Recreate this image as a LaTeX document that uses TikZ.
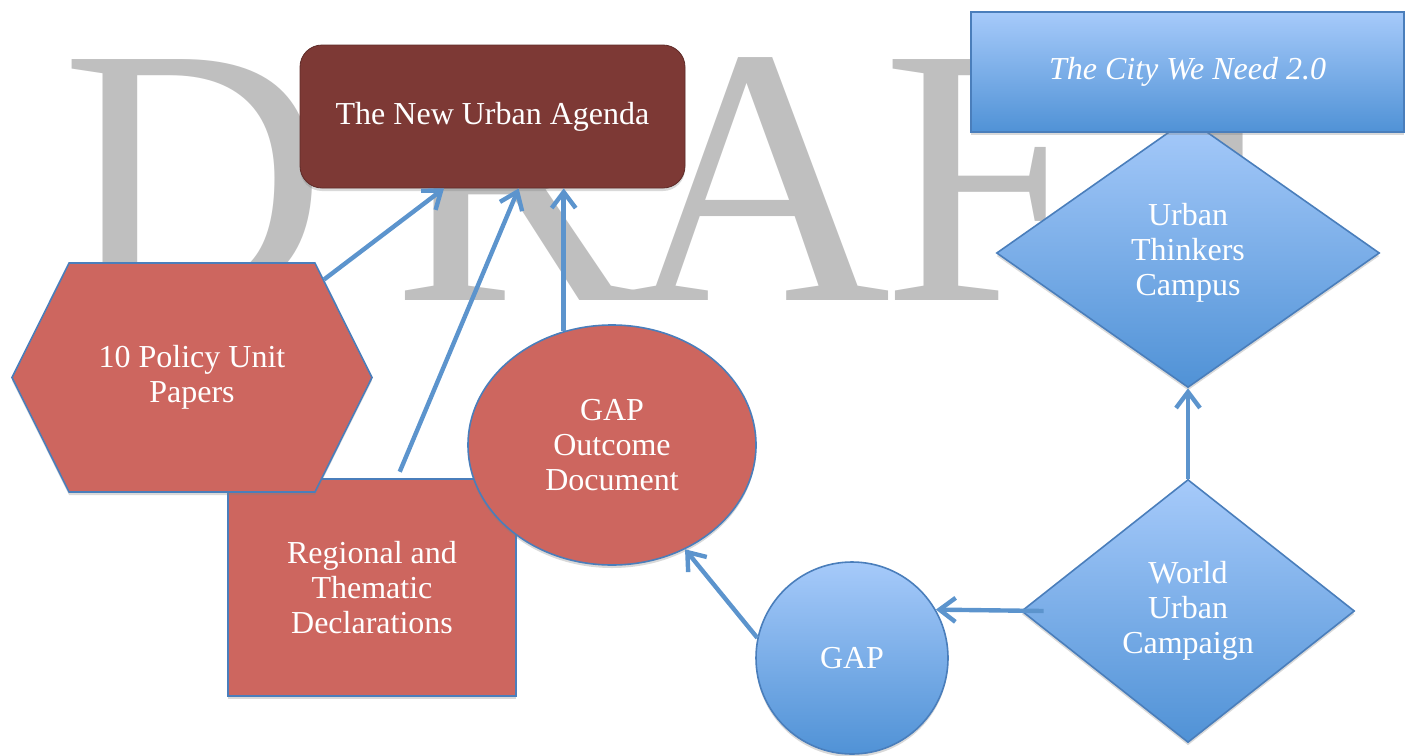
\documentclass[tikz,border=0pt]{standalone}
\usepackage{fontspec}
\setmainfont{Liberation Serif}
\usepackage{tikz}
\usetikzlibrary{shapes.geometric,shapes.symbols,shadows,arrows.meta,calc}

\definecolor{lichtblauw}{RGB}{166,202,250}
\definecolor{donkerblauw}{RGB}{80,146,214}
\definecolor{randblauw}{RGB}{74,126,187}
\definecolor{rood}{RGB}{205,102,95}
\definecolor{agenda}{RGB}{125,57,53}
\definecolor{pijlblauw}{RGB}{92,148,205}
\definecolor{grijs}{RGB}{191,191,191}

\tikzstyle{basis} = [text=white, align=center, inner sep=0pt,
font=\fontsize{16}{17.5}\selectfont,
drop shadow={opacity=0.3, shadow xshift=0pt, shadow yshift=-1.5pt}]
\tikzstyle{roodblok} = [basis, draw=randblauw, line width=0.8pt, fill=rood]
\tikzstyle{blauwblok} = [basis, draw=randblauw, line width=0.8pt,
top color=lichtblauw, bottom color=donkerblauw]
\tikzstyle{ruit} = [blauwblok, diamond]
\tikzstyle{pijl} = [draw, pijlblauw, line width=2.2pt,
-{Straight Barb[length=8pt,width=12pt]}]
\tikzstyle{watermerk} = [text=grijs, inner sep=0pt,
font=\fontsize{184}{184}\selectfont]

\begin{document}
\begin{tikzpicture}[x=0.5pt, y=-0.5pt]
	\useasboundingbox (0,0) rectangle (1411,755);
	
	% watermark behind the chart
	\foreach \letter/\xpos in {D/61,R/392,A/625,F/882,T/1113}
		\node [watermerk, anchor=base west] (wm\letter) at (\xpos,300) {\letter};
	
	
	\node [roodblok, rectangle, minimum width=144pt, minimum height=108.5pt] (decl) at (372,587.5) {Regional and\\ Thematic\\ Declarations};
	\node [roodblok, signal, signal to=east and west, signal pointer angle=127,
	minimum width=180pt, minimum height=114.5pt] (papers) at (192,377.5) {10 Policy Unit\\ Papers};
	\node [roodblok, ellipse, minimum width=144pt, minimum height=120pt] (outcome) at (612,445) {GAP\\ Outcome\\ Document};
	
	\node [basis, rectangle, rounded corners=11pt, fill=agenda, draw=agenda!75!black,
	minimum width=192.5pt, minimum height=71.5pt] (agenda) at (492.5,116.5) {The New Urban Agenda};
	
	
	\node [ruit, minimum width=191.5pt, minimum height=134.5pt] (campus) at (1188,253) {Urban\\ Thinkers\\ Campus};
	\node [blauwblok, rectangle, minimum width=216.5pt, minimum height=60pt,
	font=\fontsize{16}{17.5}\selectfont\itshape] (city) at (1187.5,72) {The City We Need 2.0};
	\node [ruit, minimum width=166.5pt, minimum height=131.5pt] (wuc) at (1188,611) {World\\ Urban\\ Campaign};
	\node [blauwblok, circle, minimum size=96pt] (gap) at (852,658) {GAP};
	
	
	\path [pijl] ($(papers.north east)!0.15!(papers.east)$)--(agenda.-124);
	\path [pijl, shorten <=3.5pt] ([xshift=12.5pt]decl.north)--(agenda.-70);
	\path [pijl] (outcome.113)--(outcome.113 |- agenda.south);
	
	\path [pijl] (gap.168)--(outcome.-55);
	\path [pijl] ([xshift=11.5pt]wuc.west)--(gap.30);
	\path [pijl] (wuc.north)--(campus.south);
\end{tikzpicture}
\end{document}
